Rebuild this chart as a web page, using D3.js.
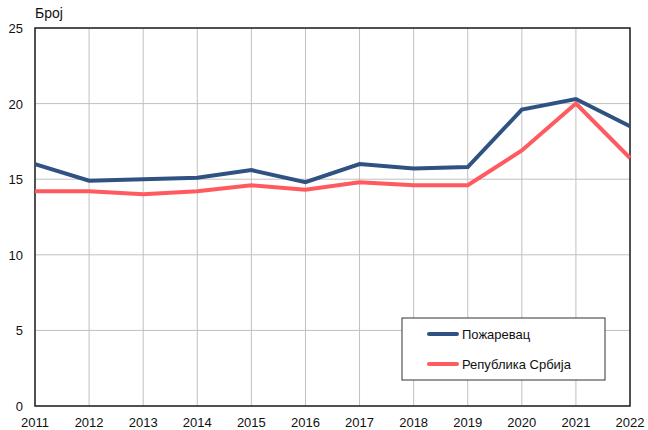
<!DOCTYPE html>
<html>
<head>
<meta charset="utf-8">
<script src="https://cdn.jsdelivr.net/npm/d3@7"></script>
<style>
    body { margin: 0; background: #fff; }
    text { font-family: "Liberation Sans", Arial, sans-serif; }
</style>
</head>
<body>
<svg id="chart" width="648" height="430"></svg>
<script>
var years = [2011, 2012, 2013, 2014, 2015, 2016, 2017, 2018, 2019, 2020, 2021, 2022];
var pozarevac = [16.0, 14.9, 15.0, 15.1, 15.6, 14.8, 16.0, 15.7, 15.8, 19.6, 20.3, 18.5];
var srbija = [14.2, 14.2, 14.0, 14.2, 14.6, 14.3, 14.8, 14.6, 14.6, 16.9, 20.0, 16.4];
var yTicks = [0, 5, 10, 15, 20, 25];
var seriesNames = ["Пожаревац", "Република Србија"];
var seriesColors = ["#2f5283", "#ff5a5f"];

(function () {
    var svg = d3.select("#chart");
    var plotLeft = 35, plotRight = 630, plotTop = 28, plotBottom = 406;

    var x = d3.scaleLinear().domain([2011, 2022]).range([plotLeft, plotRight]);
    var y = d3.scaleLinear().domain([0, 25]).range([plotBottom, plotTop]);

    // grid
    svg.append("g")
        .selectAll("line")
        .data(years)
        .enter()
        .append("line")
        .attr("x1", d => x(d)).attr("x2", d => x(d))
        .attr("y1", plotTop).attr("y2", plotBottom)
        .attr("stroke", "#c0c0c0").attr("stroke-width", 1);
    svg.append("g")
        .selectAll("line")
        .data(yTicks)
        .enter()
        .append("line")
        .attr("x1", plotLeft).attr("x2", plotRight)
        .attr("y1", d => y(d)).attr("y2", d => y(d))
        .attr("stroke", "#c0c0c0").attr("stroke-width", 1);

    // frame
    svg.append("rect")
        .attr("x", plotLeft).attr("y", plotTop)
        .attr("width", plotRight - plotLeft).attr("height", plotBottom - plotTop)
        .attr("fill", "none").attr("stroke", "#222").attr("stroke-width", 1.5);

    // tick labels
    svg.append("g")
        .selectAll("text")
        .data(yTicks)
        .enter()
        .append("text")
        .attr("x", plotLeft - 12).attr("y", d => y(d) + 5)
        .attr("text-anchor", "end")
        .attr("font-size", 13).attr("fill", "#111")
        .text(d => d);
    svg.append("g")
        .selectAll("text")
        .data(years)
        .enter()
        .append("text")
        .attr("x", d => x(d)).attr("y", plotBottom + 21)
        .attr("text-anchor", "middle")
        .attr("font-size", 13).attr("fill", "#111")
        .text(d => d);

    svg.append("text")
        .attr("x", plotLeft).attr("y", 18)
        .attr("font-size", 14).attr("fill", "#111")
        .text("Број");

    // lines
    var line = d3.line()
        .x((d, i) => x(years[i]))
        .y(d => y(d));
    [srbija, pozarevac].forEach(function (data, k) {
        svg.append("path")
            .attr("d", line(data))
            .attr("fill", "none")
            .attr("stroke", seriesColors[1 - k])
            .attr("stroke-width", 4)
            .attr("stroke-linejoin", "miter");
    });

    // legend
    var legend = svg.append("g").attr("transform", "translate(402,318)");
    legend.append("rect")
        .attr("width", 203).attr("height", 62)
        .attr("fill", "#fff").attr("stroke", "#333").attr("stroke-width", 1);
    seriesNames.forEach(function (name, i) {
        legend.append("line")
            .attr("x1", 27).attr("x2", 55)
            .attr("y1", 16 + i * 30).attr("y2", 16 + i * 30)
            .attr("stroke", seriesColors[i]).attr("stroke-width", 4)
            .attr("stroke-linecap", "round");
        legend.append("text")
            .attr("x", 60).attr("y", 21 + i * 30)
            .attr("font-size", 13).attr("fill", "#111")
            .text(name);
    });
})();
</script>
</body>
</html>
